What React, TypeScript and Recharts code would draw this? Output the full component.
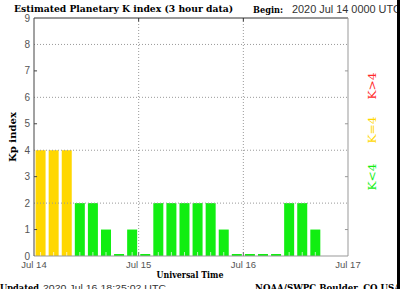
import { BarChart, Bar, Cell, XAxis, YAxis, ReferenceLine } from 'recharts'

// 3-hour slots, Jul 14 00 UT .. Jul 16 21 UT
const slots = [
  '14-00', '14-03', '14-06', '14-09', '14-12', '14-15', '14-18', '14-21',
  '15-00', '15-03', '15-06', '15-09', '15-12', '15-15', '15-18', '15-21',
  '16-00', '16-03', '16-06', '16-09', '16-12', '16-15', '16-18', '16-21',
]
// hour (from Jul 14 00 UT) at the middle of each slot
const slotHours = [
  1.5, 4.5, 7.5, 10.5, 13.5, 16.5, 19.5, 22.5,
  25.5, 28.5, 31.5, 34.5, 37.5, 40.5, 43.5, 46.5,
  49.5, 52.5, 55.5, 58.5, 61.5, 64.5, 67.5, 70.5,
]
const kpValues: (number | null)[] = [
  4, 4, 4, 2, 2, 1, 0, 1,
  0, 2, 2, 2, 2, 2, 1, 0,
  0, 0, 0, 2, 2, 1, null, null,
]
const dayTicks = [0, 24, 48, 72]
const dayLabels = ['Jul 14', 'Jul 15', 'Jul 16', 'Jul 17']
const kpTicks = [0, 1, 2, 3, 4, 5, 6, 7, 8, 9]
const gridLevels = [2, 4, 6, 8]
const tickLevels = [1, 3, 5, 7]
const legendItems = [
  { text: 'K>4', color: '#ff2a2a', y: 86 },
  { text: 'K=4', color: '#ffd700', y: 130 },
  { text: 'K<4', color: '#11ee11', y: 177 },
]

const data = slots.map((slot, i) => ({ slot, hour: slotHours[i], kp: kpValues[i] }))

const kpColor = (v: number | null) =>
  v == null ? 'none' : v > 4 ? '#ff2a2a' : v === 4 ? '#ffd700' : '#11ee11'

const serif = '"DejaVu Serif", serif'
const sans = '"Liberation Sans", Arial, sans-serif'

const KpBar = (props: any) => {
  const { x, y, width, height, fill } = props
  if (!height || height <= 0) return null
  const cx = x + width / 2
  const base = y + height
  return (
    <g>
      <rect x={x} y={y} width={width} height={height} fill={fill} />
      {height > 5 && (
        <line x1={cx} x2={cx} y1={base} y2={base - 4} stroke="#ffffff" strokeOpacity={0.7} />
      )}
    </g>
  )
}

export default function App() {
  return (
    <div style={{ position: 'absolute', left: 0, top: 0, width: 400, height: 289, background: '#fff', overflow: 'hidden' }}>
      <BarChart
        width={400}
        height={289}
        data={data}
        margin={{ top: 18, right: 52, bottom: 0, left: 0 }}
        barCategoryGap="12%"
      >
        <XAxis
          xAxisId="time"
          dataKey="hour"
          type="number"
          domain={[0, 72]}
          allowDataOverflow
          ticks={dayTicks}
          interval={0}
          tickFormatter={(v: number) => dayLabels[Math.round(v / 24)]}
          tickLine={false}
          tickSize={0}
          tickMargin={5}
          height={33}
          axisLine={{ stroke: '#999' }}
          tick={{ fontSize: 9.5, fill: '#555', fontFamily: sans }}
        />
        <XAxis xAxisId="cat" dataKey="slot" hide height={0} />
        <YAxis
          type="number"
          domain={[0, 9]}
          ticks={kpTicks}
          interval={0}
          width={34}
          tickLine={false}
          tickSize={0}
          tickMargin={4}
          axisLine={{ stroke: '#444' }}
          tick={{ fontSize: 10, fill: '#555', fontFamily: sans }}
        />
        {gridLevels.map((v) => (
          <ReferenceLine key={'g' + v} xAxisId="time" y={v} stroke="#999" strokeDasharray="1 2" />
        ))}
        {dayTicks.slice(1, 3).map((d) => (
          <ReferenceLine key={'d' + d} xAxisId="time" x={d} stroke="#999" strokeDasharray="1 2" />
        ))}
        <ReferenceLine xAxisId="time" y={9} stroke="#333" />
        <ReferenceLine xAxisId="time" x={72} stroke="#999" />
        {tickLevels.map((v) => (
          <ReferenceLine key={'l' + v} xAxisId="time" segment={[{ x: 0, y: v }, { x: 0.7, y: v }]} stroke="#444" />
        ))}
        {tickLevels.map((v) => (
          <ReferenceLine key={'r' + v} xAxisId="time" segment={[{ x: 71.3, y: v }, { x: 72, y: v }]} stroke="#999" />
        ))}
        {dayTicks.slice(1, 3).map((d) => (
          <ReferenceLine key={'t' + d} xAxisId="time" segment={[{ x: d, y: 9 }, { x: d, y: 8.87 }]} stroke="#333" />
        ))}
        {dayTicks.slice(1, 3).map((d) => (
          <ReferenceLine key={'b' + d} xAxisId="time" segment={[{ x: d, y: 0 }, { x: d, y: 0.14 }]} stroke="#666" />
        ))}
        <Bar
          xAxisId="cat"
          dataKey="kp"
          isAnimationActive={false}
          minPointSize={(v: any) => (v === 0 ? 2 : 0)}
          shape={KpBar}
        >
          {data.map((d) => (
            <Cell key={d.slot} fill={kpColor(d.kp)} />
          ))}
        </Bar>
      </BarChart>
      <svg width={400} height={289} style={{ position: 'absolute', left: 0, top: 0, pointerEvents: 'none' }}>
        <text x={14} y={11.5} fontFamily={serif} fontWeight="bold" fontSize={8.5} textLength={219} lengthAdjust="spacingAndGlyphs">
          Estimated Planetary K index (3 hour data)
        </text>
        <text x={253} y={12.5} fontFamily={serif} fontWeight="bold" fontSize={8.5} textLength={30} lengthAdjust="spacingAndGlyphs">
          Begin:
        </text>
        <text x={292} y={12.5} fontFamily={sans} fontSize={10} fill="#333" textLength={109} lengthAdjust="spacingAndGlyphs">
          2020 Jul 14 0000 UTC
        </text>
        <text x={15.5} y={137} transform="rotate(-90 15.5 137)" textAnchor="middle" fontFamily={serif} fontWeight="bold" fontSize={9} textLength={50} lengthAdjust="spacingAndGlyphs">
          Kp index
        </text>
        <text x={190} y={278} textAnchor="middle" fontFamily={serif} fontWeight="bold" fontSize={9} textLength={67} lengthAdjust="spacingAndGlyphs">
          Universal Time
        </text>
        {legendItems.map((l) => (
          <text key={l.text} x={375.5} y={l.y} transform={`rotate(-90 375.5 ${l.y})`} textAnchor="middle" fontFamily={serif} fontSize={11} fill={l.color} textLength={27} lengthAdjust="spacingAndGlyphs">
            {l.text}
          </text>
        ))}
        <text x={0} y={290.5} fontFamily={serif} fontWeight="bold" fontSize={9.5} textLength={39} lengthAdjust="spacingAndGlyphs">
          Updated
        </text>
        <text x={43} y={290.5} fontFamily={sans} fontSize={9.5} fill="#333" textLength={123} lengthAdjust="spacingAndGlyphs">
          2020 Jul 16 18:25:02 UTC
        </text>
        <text x={255} y={290.5} fontFamily={serif} fontWeight="bold" fontSize={9.5} textLength={146} lengthAdjust="spacingAndGlyphs">
          NOAA/SWPC Boulder, CO USA
        </text>
        <rect x={397} y={0} width={3} height={289} fill="#000" />
      </svg>
    </div>
  )
}
